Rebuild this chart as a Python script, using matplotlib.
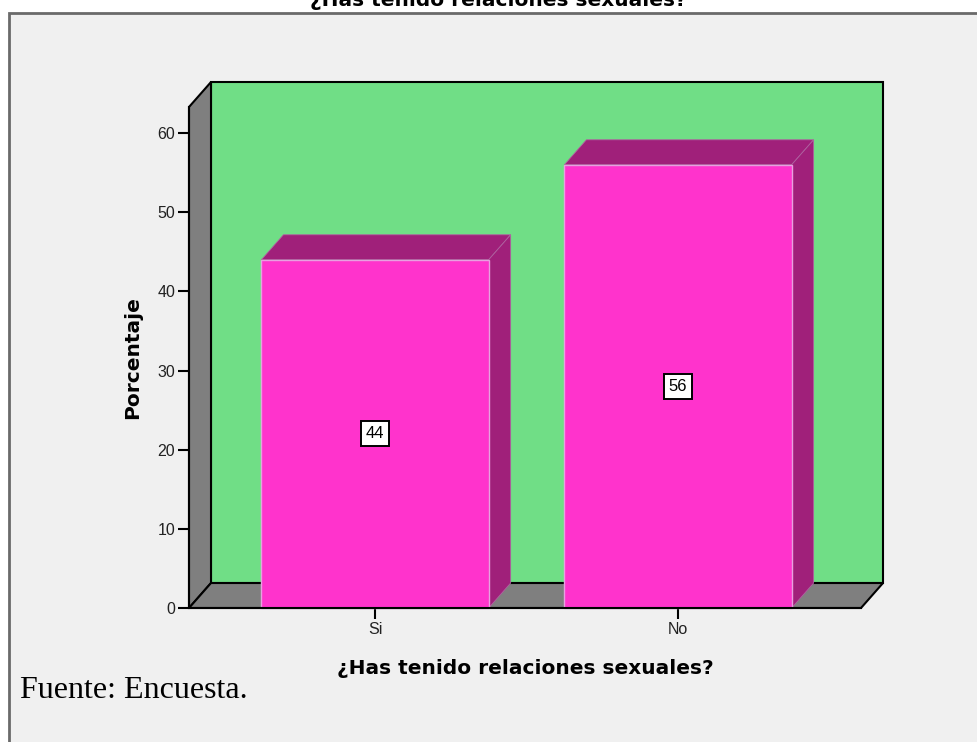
import matplotlib
matplotlib.use("Agg")
import matplotlib.pyplot as plt
from matplotlib.patches import Rectangle, Polygon

# datos del grafico
categorias = ["Si", "No"]
porcentajes = [44, 56]
etiquetas = ["44", "56"]
yticks = [0, 10, 20, 30, 40, 50, 60]
titulo = "¿Has tenido relaciones sexuales?"

# colores
fondo = "#F0F0F0"
verde = "#70DE86"
gris = "#7F7F7F"
magenta = "#FF33CC"
magenta_osc = "#A0207A"

fig = plt.figure(figsize=(9.78, 7.42), dpi=100)
fig.patch.set_facecolor("white")

# marco gris del area del grafico
W, H = 978.0, 742.0
marco = Rectangle((9 / W, -0.05), 1.1, 1 - 13 / H + 0.05, transform=fig.transFigure,
                  facecolor=fondo, edgecolor="#6A6A6A", linewidth=2, zorder=-10)
fig.patches.append(marco)

# titulo cortado arriba
fig.text(498 / W, 1 - 6 / H, titulo, ha="center", va="baseline",
         fontsize=14.5, fontweight="bold", family="DejaVu Sans")

ax = fig.add_axes([189 / W, 1 - 608 / H, 672 / W, 501 / H])
ax.set_facecolor("none")
x0, x1 = -0.614, 1.604
ymax = 63.3
ax.set_xlim(x0, x1)
ax.set_ylim(0, ymax)

dx = 22 / 303.0   # profundidad en unidades de categoria
dy = 25 / 7.92    # profundidad en unidades de porcentaje

# pared de fondo
ax.add_patch(Rectangle((x0 + dx, dy), x1 - x0, ymax, facecolor=verde,
                       edgecolor="black", linewidth=1.5, clip_on=False, zorder=1))
# pared izquierda
ax.add_patch(Polygon([(x0, 0), (x0 + dx, dy), (x0 + dx, ymax + dy), (x0, ymax)],
                     closed=True, facecolor=gris, edgecolor="black", linewidth=1.5,
                     clip_on=False, zorder=2))
# piso
ax.add_patch(Polygon([(x0, 0), (x1, 0), (x1 + dx, dy), (x0 + dx, dy)],
                     closed=True, facecolor=gris, edgecolor="black", linewidth=1.5,
                     clip_on=False, zorder=2))

ancho = 0.75
for i, v in enumerate(porcentajes):
    l = i - ancho / 2
    r = i + ancho / 2
    # cara superior
    ax.add_patch(Polygon([(l, v), (r, v), (r + dx, v + dy), (l + dx, v + dy)],
                         closed=True, facecolor=magenta_osc, edgecolor="#B060A0",
                         linewidth=0.6, clip_on=False, zorder=3))
    # cara lateral
    ax.add_patch(Polygon([(r, 0), (r + dx, dy), (r + dx, v + dy), (r, v)],
                         closed=True, facecolor=magenta_osc, edgecolor="#B060A0",
                         linewidth=0.6, clip_on=False, zorder=3))
    # cara frontal
    ax.add_patch(Rectangle((l, 0), ancho, v, facecolor=magenta,
                           edgecolor="#E8A0E0", linewidth=1, clip_on=False, zorder=4))
    ax.text(i, v / 2, etiquetas[i], ha="center", va="center", fontsize=12,
            family="Liberation Sans", zorder=5,
            bbox=dict(boxstyle="square,pad=0.3", facecolor="white",
                      edgecolor="black", linewidth=1.4))

for s in ["top", "right"]:
    ax.spines[s].set_visible(False)
ax.spines["left"].set_linewidth(1.5)
ax.spines["bottom"].set_linewidth(1.5)
ax.spines["left"].set_zorder(6)
ax.spines["bottom"].set_zorder(6)

ax.set_yticks(yticks)
ax.set_xticks(range(len(categorias)))
ax.set_xticklabels(categorias)
ax.tick_params(axis="both", length=8, width=1.5, labelsize=11.5, colors="black", pad=2)
for lab in ax.get_xticklabels() + ax.get_yticklabels():
    lab.set_family("Liberation Sans")
    lab.set_color("#222222")

fig.text(133 / W, 1 - 358 / H, "Porcentaje", rotation=90, ha="center", va="center",
         fontsize=14.5, fontweight="bold", family="DejaVu Sans")
fig.text(525 / W, 1 - 669 / H, titulo, ha="center", va="center",
         fontsize=14.5, fontweight="bold", family="DejaVu Sans")
fig.text(20 / W, 1 - 698 / H, "Fuente: Encuesta.", ha="left", va="baseline",
         fontsize=23, family="Liberation Serif")

fig.savefig("out.png", dpi=100, facecolor=fig.get_facecolor())
